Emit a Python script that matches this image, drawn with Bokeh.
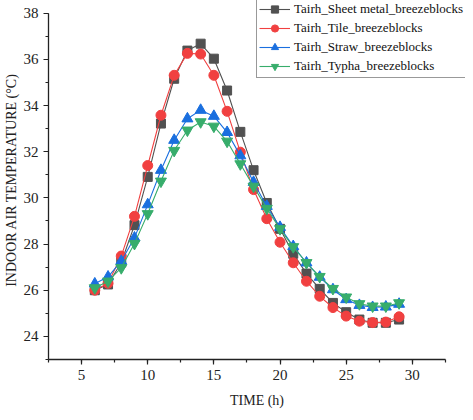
from bokeh.plotting import figure
from bokeh.models import Range1d, SingleIntervalTicker, Legend, LegendItem
from bokeh.embed import file_html
from bokeh.resources import INLINE

hours = list(range(6, 30))
sheet_metal = [26.0, 26.25, 27.2, 28.82, 30.91, 33.22, 35.16, 36.38, 36.68, 36.03, 34.65, 32.86,
               31.2, 29.78, 28.66, 27.58, 26.72, 26.06, 25.45, 25.05, 24.73, 24.59, 24.59, 24.73]
tile = [26.0, 26.3, 27.48, 29.2, 31.4, 33.58, 35.31, 36.26, 36.23, 35.31, 33.75, 31.98,
        30.36, 29.1, 28.08, 27.19, 26.39, 25.74, 25.25, 24.88, 24.66, 24.6, 24.62, 24.85]
straw = [26.28, 26.58, 27.26, 28.27, 29.71, 31.2, 32.5, 33.43, 33.8, 33.54, 32.84, 31.83,
         30.68, 29.64, 28.73, 27.9, 27.19, 26.57, 26.03, 25.6, 25.35, 25.26, 25.28, 25.4]
typha = [26.1, 26.39, 26.97, 28.02, 29.31, 30.72, 32.05, 32.93, 33.29, 33.1, 32.45, 31.47,
         30.5, 29.54, 28.66, 27.88, 27.19, 26.59, 26.07, 25.7, 25.41, 25.31, 25.31, 25.45]
labels = ["Tairh_Sheet metal_breezeblocks", "Tairh_Tile_breezeblocks",
          "Tairh_Straw_breezeblocks", "Tairh_Typha_breezeblocks"]

FONT = "Liberation Serif"

# frame spans to the top and right canvas edges; axes are bounded to the data window
p = figure(width=465, height=412, output_backend="svg", toolbar_location=None,
           x_range=Range1d(2.5, 34.02), y_range=Range1d(23, 38.55),
           min_border_left=44, min_border_right=0, min_border_top=0, min_border_bottom=53)
p.outline_line_color = None
p.xgrid.visible = False
p.ygrid.visible = False
p.background_fill_color = "white"
p.border_fill_color = "white"

p.xaxis.ticker = SingleIntervalTicker(interval=5, num_minor_ticks=2)
p.yaxis.ticker = SingleIntervalTicker(interval=2, num_minor_ticks=2)
p.xaxis.bounds = (2.5, 32.5)
p.yaxis.bounds = (23, 38)
for ax in (p.xaxis, p.yaxis):
    ax.axis_line_color = "#222222"
    ax.axis_line_width = 1.3
    ax.major_tick_line_color = "#222222"
    ax.minor_tick_line_color = "#222222"
    ax.major_tick_line_width = 1.2
    ax.minor_tick_line_width = 1.2
    ax.major_tick_out = 5
    ax.major_tick_in = 0
    ax.minor_tick_out = 3
    ax.minor_tick_in = 0
    ax.major_label_text_font = FONT
    ax.major_label_text_font_size = "15px"
    ax.major_label_text_color = "#222222"
    ax.axis_label_text_font = FONT
    ax.axis_label_text_font_size = "14px"
    ax.axis_label_text_font_style = "normal"
    ax.axis_label_text_color = "#222222"
    ax.major_label_standoff = 5

p.xaxis.axis_label = "TIME (h)"
p.yaxis.axis_label = "INDOOR AIR TEMPERATURE (°C)"
p.xaxis.axis_label_standoff = 10
p.yaxis.axis_label_standoff = 2

series = [
    (sheet_metal, "#515151", "square", 9),
    (tile, "#F14040", "circle", 10),
    (straw, "#1A6FDF", "triangle", 11),
    (typha, "#37AD6B", "inverted_triangle", 11),
]
items = []
for (vals, col, mk, sz), lab in zip(series, labels):
    r1 = p.line(hours, vals, line_color=col, line_width=1.1)
    r2 = p.scatter(hours, vals, marker=mk, size=sz, fill_color=col, line_color=col)
    items.append(LegendItem(label=lab, renderers=[r1, r2]))

legend = Legend(items=items, location=(208, 281), orientation="vertical")
legend.label_text_font = FONT
legend.label_text_font_size = "13px"
legend.label_text_color = "#111111"
legend.glyph_width = 31
legend.glyph_height = 18
legend.label_height = 18
legend.label_standoff = 4
legend.spacing = 1
legend.padding = 2
legend.margin = 0
legend.border_line_color = "#333333"
legend.border_line_width = 1.2
legend.background_fill_color = "white"
legend.background_fill_alpha = 1.0
p.add_layout(legend, "center")

open("out.html", "w").write(file_html(p, INLINE))
